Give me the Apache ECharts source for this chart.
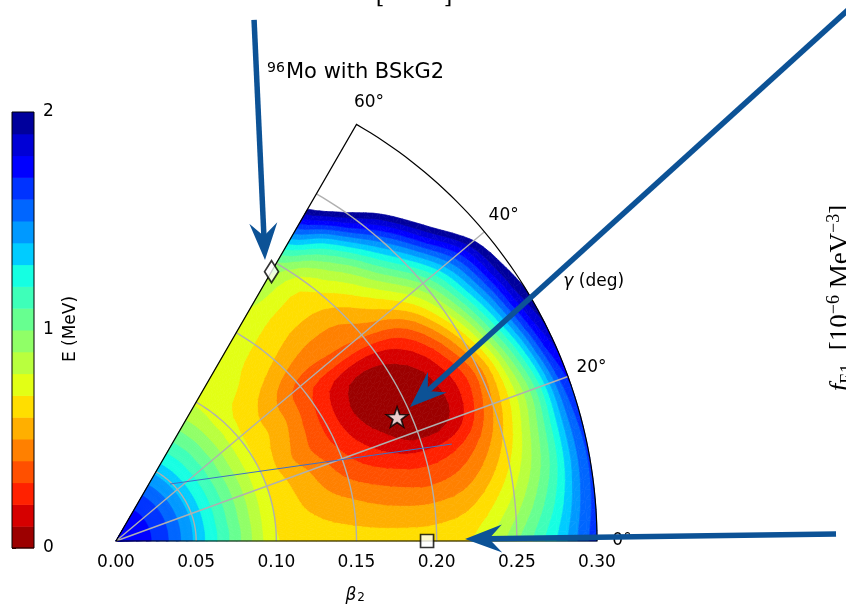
<!DOCTYPE html>
<html>
<head>
<meta charset="utf-8">
<script src="https://cdn.jsdelivr.net/npm/echarts@6/dist/echarts.min.js"></script>
<style>
  html, body { margin: 0; padding: 0; background: #ffffff; }
  #chart { width: 846px; height: 604px; }
</style>
</head>
<body>
<div id="chart"></div>
<script>
// Deformation grid: beta_2 (radius) and gamma in degrees (angle)
const betaValues = [0, 0.025, 0.05, 0.075, 0.1, 0.125, 0.15, 0.175, 0.2, 0.225, 0.25, 0.275, 0.3];
const gammaValues = [0, 5, 10, 15, 20, 25, 30, 35, 40, 45, 50, 55, 60];

// Energy surface E(beta_2, gamma) in MeV, one row per gamma value
const eGamma0  = [1.78, 1.68, 1.37, 1.04, 0.71, 0.66, 0.64, 0.64, 0.65, 0.72, 0.98, 1.30, 1.65];
const eGamma5  = [1.78, 1.68, 1.37, 1.04, 0.70, 0.62, 0.58, 0.55, 0.55, 0.62, 0.85, 1.20, 1.63];
const eGamma10 = [1.78, 1.68, 1.37, 1.03, 0.70, 0.58, 0.50, 0.43, 0.40, 0.48, 0.72, 1.10, 1.62];
const eGamma15 = [1.78, 1.68, 1.37, 1.03, 0.70, 0.55, 0.40, 0.30, 0.25, 0.33, 0.60, 1.05, 1.65];
const eGamma20 = [1.78, 1.68, 1.37, 1.03, 0.70, 0.52, 0.33, 0.17, 0.05, 0.13, 0.50, 1.00, 1.72];
const eGamma25 = [1.78, 1.68, 1.37, 1.03, 0.70, 0.47, 0.28, 0.08, 0.01, 0.11, 0.45, 1.12, 1.85];
const eGamma30 = [1.78, 1.68, 1.37, 1.03, 0.70, 0.50, 0.27, 0.06, 0.03, 0.18, 0.60, 1.30, 1.97];
const eGamma35 = [1.78, 1.68, 1.37, 1.03, 0.71, 0.54, 0.30, 0.13, 0.15, 0.35, 0.80, 1.45, 2.05];
const eGamma40 = [1.78, 1.68, 1.37, 1.04, 0.72, 0.55, 0.36, 0.36, 0.42, 0.60, 1.00, 1.60, 2.15];
const eGamma45 = [1.78, 1.68, 1.37, 1.04, 0.74, 0.60, 0.50, 0.48, 0.55, 0.82, 1.30, 1.95, 2.50];
const eGamma50 = [1.78, 1.68, 1.37, 1.05, 0.75, 0.68, 0.62, 0.60, 0.68, 1.00, 1.62, 2.25, 2.80];
const eGamma55 = [1.78, 1.68, 1.37, 1.05, 0.77, 0.72, 0.70, 0.70, 0.78, 1.25, 2.00, 2.50, 3.00];
const eGamma60 = [1.78, 1.68, 1.37, 1.05, 0.78, 0.76, 0.78, 0.82, 0.98, 1.60, 2.30, 2.80, 3.20];

// Contour levels (MeV) and tick labels
const energyLevels = [0, 0.1, 0.2, 0.3, 0.4, 0.5, 0.6, 0.7, 0.8, 0.9, 1.0, 1.1, 1.2, 1.3, 1.4, 1.5, 1.6, 1.7, 1.8, 1.9, 2.0];
const colorbarTicks = [0, 1, 2];
const betaTicks = [0, 0.05, 0.10, 0.15, 0.20, 0.25, 0.30];
const betaArcs = [0.05, 0.10, 0.15, 0.20, 0.25];
const gammaSpokes = [20, 40];
const gammaTickLabels = [0, 20, 40, 60];

// Marked configurations [beta_2, gamma]
const diamondPoint = [0.194, 60];
const starPoint = [0.1916, 23.8];
const squarePoint = [0.194, 0];

// Annotation arrows [beta_2, gamma] for tail and tip
const arrowTails = [[0.3362, 75.16], [0.5733, 36.06], [0.4491, 0.557]];
const arrowTips  = [[0.1984, 62.07], [0.2015, 24.5], [0.2177, 0.33]];

// Thin path segment across the surface
const pathSegment = [[0.049, 46.5], [0.218, 16.1]];

const energyGrid = [eGamma0, eGamma5, eGamma10, eGamma15, eGamma20, eGamma25, eGamma30,
                    eGamma35, eGamma40, eGamma45, eGamma50, eGamma55, eGamma60];

// Reversed jet colormap
const JET_R = [[0, 0], [0.35, 0], [0.66, 1], [0.89, 1], [1, 0.5]];
const JET_G = [[0, 0], [0.125, 0], [0.375, 1], [0.64, 1], [0.91, 0], [1, 0]];
const JET_B = [[0, 0.5], [0.11, 1], [0.34, 1], [0.65, 0], [1, 0]];
function segValue(seg, x) {
  for (let k = 0; k < seg.length - 1; k++) {
    const a = seg[k], b = seg[k + 1];
    if (x >= a[0] && x <= b[0]) return a[1] + (b[1] - a[1]) * (x - a[0]) / (b[0] - a[0]);
  }
  return seg[seg.length - 1][1];
}
function jet(x) {
  return 'rgb(' + [JET_R, JET_G, JET_B].map(s => Math.round(255 * segValue(s, x))).join(',') + ')';
}
const nBands = energyLevels.length - 1;
const bandColors = [];
for (let k = 0; k < nBands; k++) bandColors.push(jet(1 - (k + 0.5) / nBands));

// Smooth (Catmull-Rom) evaluation of the surface between grid nodes, used for contouring
const nB = betaValues.length, nG = gammaValues.length;
function gridAt(j, i) {
  return energyGrid[Math.max(0, Math.min(nG - 1, j))][Math.max(0, Math.min(nB - 1, i))];
}
function catmull(p0, p1, p2, p3, t) {
  return 0.5 * (2 * p1 + (-p0 + p2) * t + (2 * p0 - 5 * p1 + 4 * p2 - p3) * t * t
    + (-p0 + 3 * p1 - 3 * p2 + p3) * t * t * t);
}
function surfaceAt(fi, fj) {
  const i = Math.min(nB - 2, Math.floor(fi)), j = Math.min(nG - 2, Math.floor(fj));
  const ti = fi - i, tj = fj - j;
  const rows = [];
  for (let dj = -1; dj <= 2; dj++) {
    rows.push(catmull(gridAt(j + dj, i - 1), gridAt(j + dj, i), gridAt(j + dj, i + 1), gridAt(j + dj, i + 2), ti));
  }
  return catmull(rows[0], rows[1], rows[2], rows[3], tj);
}

// Filled-contour helper: clip a polygon against a level
function clipPoly(poly, level, keepAbove) {
  const out = [];
  for (let k = 0; k < poly.length; k++) {
    const P = poly[k], Q = poly[(k + 1) % poly.length];
    const pin = keepAbove ? P.v >= level : P.v <= level;
    const qin = keepAbove ? Q.v >= level : Q.v <= level;
    if (pin) out.push(P);
    if (pin !== qin) {
      const t = (level - P.v) / (Q.v - P.v);
      out.push({ r: P.r + t * (Q.r - P.r), a: P.a + t * (Q.a - P.a), v: level });
    }
  }
  return out;
}

const cells = [];
for (let j = 0; j < nG - 1; j++) {
  for (let i = 0; i < nB - 1; i++) cells.push([betaValues[i], gammaValues[j], i, j]);
}

const SUB = 4;
function renderCell(params, api) {
  const c = cells[params.dataIndex];
  const i = c[2], j = c[3];
  const db = (betaValues[i + 1] - betaValues[i]) / SUB;
  const dg = (gammaValues[j + 1] - gammaValues[j]) / SUB;
  const node = [];
  for (let u = 0; u <= SUB; u++) {
    node.push([]);
    for (let w = 0; w <= SUB; w++) {
      node[u].push({ r: betaValues[i] + u * db, a: gammaValues[j] + w * dg,
        v: surfaceAt(i + u / SUB, j + w / SUB) });
    }
  }
  const children = [];
  const emit = (tri) => {
    for (let k = 0; k < nBands; k++) {
      let poly = clipPoly(tri, energyLevels[k], true);
      if (poly.length < 3) continue;
      poly = clipPoly(poly, energyLevels[k + 1], false);
      if (poly.length < 3) continue;
      children.push({
        type: 'polygon',
        shape: { points: poly.map(p => api.coord([p.r, p.a])) },
        style: { fill: bandColors[k], stroke: bandColors[k], lineWidth: 0.7 }
      });
    }
  };
  for (let u = 0; u < SUB; u++) {
    for (let w = 0; w < SUB; w++) {
      const a = node[u][w], b = node[u + 1][w], cc = node[u + 1][w + 1], d = node[u][w + 1];
      emit([a, b, cc]);
      emit([a, cc, d]);
    }
  }
  return { type: 'group', children };
}

function arcPoints(api, r, a0, a1) {
  const pts = [];
  const step = a1 >= a0 ? 1 : -1;
  for (let a = a0; step > 0 ? a <= a1 : a >= a1; a += step) pts.push(api.coord([r, a]));
  return pts;
}

function renderGridLines(params, api) {
  const children = [];
  betaArcs.forEach(b => {
    children.push({ type: 'polyline', shape: { points: arcPoints(api, b, 0, 60) },
      style: { stroke: '#b0b0b0', lineWidth: 1.4, fill: null } });
  });
  gammaSpokes.forEach(g => {
    const p0 = api.coord([0, g]), p1 = api.coord([0.3, g]);
    children.push({ type: 'line', shape: { x1: p0[0], y1: p0[1], x2: p1[0], y2: p1[1] },
      style: { stroke: '#b0b0b0', lineWidth: 1.4 } });
  });
  return { type: 'group', children };
}

function renderFrame(params, api) {
  const pts = [api.coord([0.3, 0]), api.coord([0, 0]), api.coord([0.3, 60])]
    .concat(arcPoints(api, 0.3, 60, 0));
  const p0 = api.coord(pathSegment[0]), p1 = api.coord(pathSegment[1]);
  const children = [
    { type: 'line', shape: { x1: p0[0], y1: p0[1], x2: p1[0], y2: p1[1] },
      style: { stroke: '#3f6fc8', lineWidth: 1 } },
    { type: 'polygon', shape: { points: pts }, style: { fill: null, stroke: '#000', lineWidth: 1.2 } }
  ];
  gammaTickLabels.forEach(g => {
    const p = api.coord([0.3156, g]);
    children.push({ type: 'text', x: p[0], y: p[1],
      style: { text: g + '°', fill: '#000', font: '17px "DejaVu Sans"', align: 'center', verticalAlign: 'middle' } });
  });
  const gp = api.coord([0.339, 28.5]);
  children.push({ type: 'text', x: gp[0], y: gp[1],
    style: { text: '{g|γ} (deg)', fill: '#000', font: '17px "DejaVu Sans"', align: 'center', verticalAlign: 'middle',
      rich: { g: { fontStyle: 'italic', fontFamily: 'DejaVu Sans', fontSize: 17 } } } });
  return { type: 'group', children };
}

const ARROW_COLOR = '#0c5296';
function renderArrow(params, api) {
  const k = params.dataIndex;
  const tail = api.coord(arrowTails[k]);
  const tip = api.coord(arrowTips[k]);
  const dx = tip[0] - tail[0], dy = tip[1] - tail[1];
  const len = Math.sqrt(dx * dx + dy * dy);
  const ux = dx / len, uy = dy / len, nx = -uy, ny = ux;
  const L = 37, W = 14, notch = 13;
  const bx = tip[0] - L * ux, by = tip[1] - L * uy;
  const nxp = tip[0] - (L - notch) * ux, nyp = tip[1] - (L - notch) * uy;
  return { type: 'group', children: [
    { type: 'line', shape: { x1: tail[0], y1: tail[1], x2: nxp + 2 * ux, y2: nyp + 2 * uy },
      style: { stroke: ARROW_COLOR, lineWidth: 5.5 } },
    { type: 'polygon', shape: { points: [tip, [bx + W * nx, by + W * ny], [nxp, nyp], [bx - W * nx, by - W * ny]] },
      style: { fill: ARROW_COLOR } }
  ] };
}

const colorbarBands = [];
for (let k = 0; k < nBands; k++) colorbarBands.push([0, energyLevels[k], energyLevels[k + 1], k]);

function renderColorbarBand(params, api) {
  const b = colorbarBands[params.dataIndex];
  const p0 = api.coord([0, b[1]]), p1 = api.coord([1, b[2]]);
  return { type: 'rect', shape: { x: p0[0], y: p1[1], width: p1[0] - p0[0], height: p0[1] - p1[1] + 0.5 },
    style: { fill: bandColors[b[3]] } };
}
function renderColorbarFrame(params, api) {
  const p0 = api.coord([0, 0]), p1 = api.coord([1, 2]);
  return { type: 'rect', shape: { x: p0[0], y: p1[1], width: p1[0] - p0[0], height: p0[1] - p1[1] },
    style: { fill: null, stroke: '#000', lineWidth: 1 } };
}

const chart = echarts.init(document.getElementById('chart'), null, { renderer: 'canvas' });
const starPath = 'path://M0,-10 L2.35,-3.24 9.51,-3.09 3.8,1.24 5.88,8.09 0,4 -5.88,8.09 -3.8,1.24 -9.51,-3.09 -2.35,-3.24Z';
const markerStyle = { color: '#ffffff', borderColor: '#000000', borderWidth: 1.7 };

chart.setOption({
  animation: false,
  backgroundColor: '#ffffff',
  polar: { center: [116, 541], radius: 481 },
  angleAxis: { type: 'value', min: 0, max: 360, startAngle: 0, clockwise: false, show: false },
  radiusAxis: { type: 'value', min: 0, max: 0.3, show: false },
  grid: [
    { left: 116, right: 249, top: 120, bottom: 63 },
    { left: 12, top: 112, width: 22, height: 436 }
  ],
  xAxis: [
    { gridIndex: 0, type: 'value', min: 0, max: 0.3, interval: 0.05,
      axisLine: { show: false }, axisTick: { show: false }, splitLine: { show: false },
      axisLabel: { fontSize: 17, fontFamily: 'DejaVu Sans', color: '#000', margin: 13,
        customValues: betaTicks, formatter: v => v.toFixed(2) } },
    { gridIndex: 1, type: 'value', min: 0, max: 1, show: false }
  ],
  yAxis: [
    { gridIndex: 0, type: 'value', min: 0, max: 1, show: false },
    { gridIndex: 1, type: 'value', min: 0, max: 2, interval: 1, position: 'right',
      axisLine: { show: false }, splitLine: { show: false },
      axisTick: { show: true, length: 4, lineStyle: { color: '#000', width: 1 }, customValues: colorbarTicks },
      axisLabel: { fontSize: 17, fontFamily: 'DejaVu Sans', color: '#000', margin: 9, customValues: colorbarTicks } }
  ],
  series: [
    { type: 'custom', coordinateSystem: 'polar', z: 1, silent: true,
      data: cells.map(c => [c[0], c[1]]), renderItem: renderCell },
    { type: 'custom', coordinateSystem: 'polar', z: 2, silent: true,
      data: [[0, 0]], renderItem: renderGridLines },
    { type: 'custom', coordinateSystem: 'polar', z: 3, silent: true,
      data: [[0, 0]], renderItem: renderFrame },
    { type: 'scatter', coordinateSystem: 'polar', z: 4, silent: true,
      symbol: 'diamond', symbolSize: [14, 22], itemStyle: markerStyle, data: [diamondPoint] },
    { type: 'scatter', coordinateSystem: 'polar', z: 4, silent: true,
      symbol: starPath, symbolKeepAspect: true, symbolSize: 21, itemStyle: markerStyle, data: [starPoint] },
    { type: 'scatter', coordinateSystem: 'polar', z: 4, silent: true,
      symbol: 'rect', symbolSize: 13, itemStyle: markerStyle, data: [squarePoint] },
    { type: 'custom', coordinateSystem: 'polar', z: 5, silent: true,
      data: arrowTips.map(t => [t[0], t[1]]), renderItem: renderArrow },
    { type: 'custom', xAxisIndex: 1, yAxisIndex: 1, z: 1, silent: true,
      data: colorbarBands.map(b => [0.5, b[1]]), renderItem: renderColorbarBand },
    { type: 'custom', xAxisIndex: 1, yAxisIndex: 1, z: 2, silent: true,
      data: [[0.5, 1]], renderItem: renderColorbarFrame }
  ],
  graphic: [
    { type: 'text', left: 267, top: 61, z: 10,
      style: { text: '96', fill: '#000', font: '14px "DejaVu Sans"' } },
    { type: 'text', left: 286, top: 62, z: 10,
      style: { text: 'Mo with BSkG2', fill: '#000', font: '21px "DejaVu Sans"' } },
    { type: 'text', x: 351, y: 596, z: 10,
      style: { text: 'β', fill: '#000', font: 'italic 17px "DejaVu Sans"', align: 'center', verticalAlign: 'middle' } },
    { type: 'text', x: 361, y: 598, z: 10,
      style: { text: '2', fill: '#000', font: '12px "DejaVu Sans"', align: 'center', verticalAlign: 'middle' } },
    { type: 'text', x: 71, y: 329, rotation: Math.PI / 2, z: 10,
      style: { text: 'E (MeV)', fill: '#000', font: '17px "DejaVu Sans"', align: 'center', verticalAlign: 'middle' } },
    { type: 'text', x: 380, y: 8, z: 10,
      style: { text: '[', fill: '#000', font: '22px "DejaVu Serif"', align: 'center', verticalAlign: 'bottom' } },
    { type: 'text', x: 448, y: 8, z: 10,
      style: { text: ']', fill: '#000', font: '22px "DejaVu Serif"', align: 'center', verticalAlign: 'bottom' } },
    { type: 'text', x: 841, y: 298, rotation: Math.PI / 2, z: 10,
      style: {
        text: '{it|f}{sub|E1}  [10{sup|−6} MeV{sup|−3}]',
        fill: '#000', font: '27px "Liberation Serif"', align: 'center', verticalAlign: 'middle',
        rich: {
          it: { fontStyle: 'italic', fontFamily: 'Liberation Serif', fontSize: 27, lineHeight: 32, verticalAlign: 'middle' },
          sub: { fontFamily: 'Liberation Serif', fontSize: 18, lineHeight: 18, verticalAlign: 'bottom' },
          sup: { fontFamily: 'Liberation Serif', fontSize: 18, lineHeight: 18, verticalAlign: 'top' }
        }
      } }
  ]
});
</script>
</body>
</html>
